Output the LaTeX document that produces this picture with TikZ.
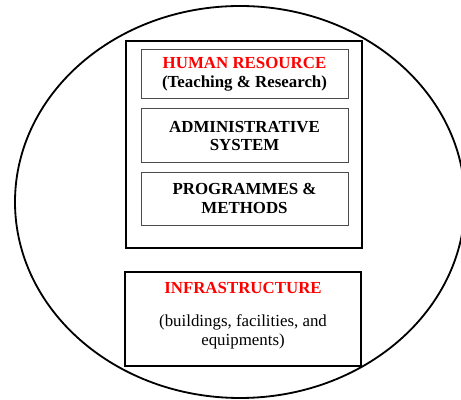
\documentclass[tikz,border=0pt]{standalone}
\usepackage{fontspec}
\setmainfont{Liberation Serif}
\usepackage{tikz}

\tikzset{
	frame/.style={draw=black,line width=1.6pt,minimum width=5.9cm},
	part/.style={draw=black!70,line width=0.7pt,minimum width=5.175cm,align=center,font=\fontsize{12}{13.5}\selectfont\bfseries},
	label/.style={align=center,font=\fontsize{12}{14}\selectfont}
}

\begin{document}
\begin{tikzpicture}
	\useasboundingbox (0,0) rectangle (11.525,10);
	\clip (0,0) rectangle (11.525,10);
	
	\draw[line width=1.3pt] (6.0,4.95) ellipse [x radius=5.625cm, y radius=4.9cm];
	
	\node[frame,minimum height=5.175cm] (core) at (6.1, 6.3875) {};
	\node[part,minimum height=1.225cm] (hr) at (6.1125, 8.1375) {\textcolor{red}{HUMAN RESOURCE}\\(Teaching \& Research)};
	\node[part,minimum height=1.35cm]  (admin) at (6.1125, 6.6) {ADMINISTRATIVE\\SYSTEM};
	\node[part,minimum height=1.325cm] (prog) at (6.1125, 5.0375) {PROGRAMMES \&\\METHODS};
	
	\node[frame,line width=1.4pt,minimum height=2.35cm] (infra) at (6.075, 2.025) {};
	\node[label,font=\fontsize{12}{14}\selectfont\bfseries,text=red] (infratitle) at (6.075, 2.8) {INFRASTRUCTURE};
	\node[label] (infratext) at (6.075, 1.7) {(buildings, facilities, and\\equipments)};
	
\end{tikzpicture}
\end{document}
